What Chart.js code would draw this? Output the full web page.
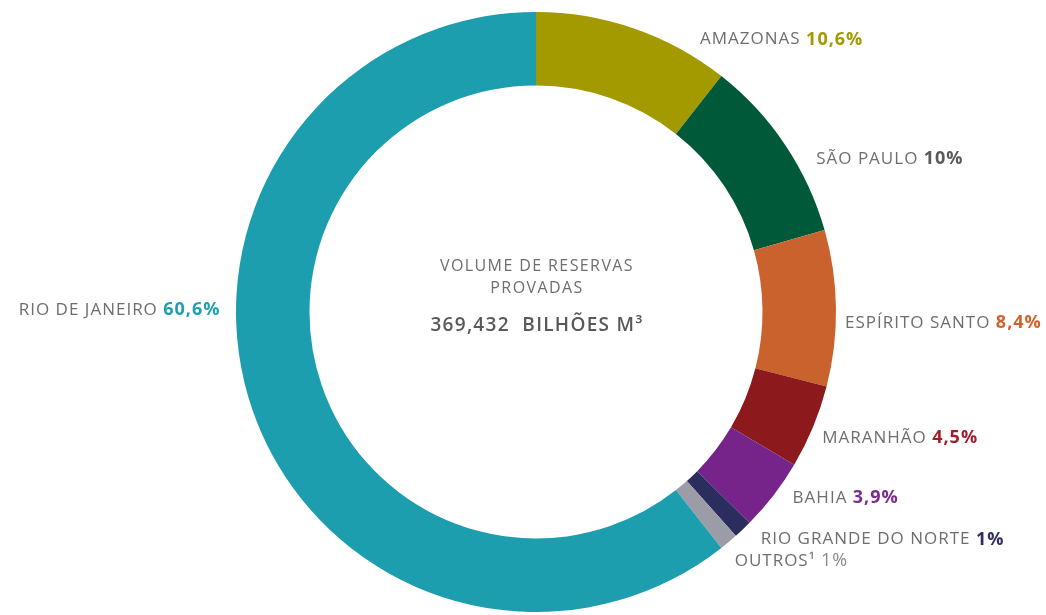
<!DOCTYPE html>
<html lang="pt">
<head>
  <meta charset="UTF-8" />
  <title>Volume de reservas provadas</title>
  <script src="https://cdn.jsdelivr.net/npm/chart.js"></script>
  <style>
    html, body { margin: 0; padding: 0; background: #ffffff; }
    #wrap { width: 1046px; height: 615px; position: relative; }
  </style>
</head>
<body>
  <div id="wrap"><canvas id="reservasChart"></canvas></div>

  <script>
    // dados
    const estados = ['AMAZONAS', 'SÃO PAULO', 'ESPÍRITO SANTO', 'MARANHÃO', 'BAHIA', 'RIO GRANDE DO NORTE', 'OUTROS¹', 'RIO DE JANEIRO'];
    const percentuais = [10.6, 10, 8.4, 4.5, 3.9, 1, 1, 60.6];
    const rotulosPct = ['10,6%', '10%', '8,4%', '4,5%', '3,9%', '1%', '1%', '60,6%'];
    const tituloCentro = ['VOLUME DE RESERVAS', 'PROVADAS'];
    const totalCentro = '369,432  BILHÕES M³';

    const cores = ['#a39a00', '#005a3a', '#c9622c', '#8c1a1c', '#76248a', '#2b2d5e', '#9c9ba8', '#1d9eae'];
    const coresPct = ['#a39a00', '#58595b', '#d0622c', '#a11f2c', '#7b2a8e', '#2d2f66', '#8a8a8a', '#1f9fb0'];
    const pesoPct = ['bold', 'bold', 'bold', 'bold', 'bold', 'bold', 'normal', 'bold'];
    // deslocamento do rótulo a partir do ponto médio externo de cada fatia
    const offsetRotulo = [[66, 11], [31, 14], [9, 15], [9, 11], [19, 3], [18, 10], [6, 19], [-32, -100]];

    const FONTE = '"Open Sans", "DejaVu Sans", sans-serif';

    const rotulosPlugin = {
      id: 'rotulos',
      afterDraw(chart) {
        const ctx = chart.ctx;
        const arcs = chart.getDatasetMeta(0).data;
        ctx.save();
        ctx.textBaseline = 'middle';
        arcs.forEach((arc, i) => {
          const p = arc.getProps(['x', 'y', 'startAngle', 'endAngle', 'outerRadius']);
          const mid = (p.startAngle + p.endAngle) / 2;
          const px = p.x + Math.cos(mid) * p.outerRadius + offsetRotulo[i][0];
          const py = p.y + Math.sin(mid) * p.outerRadius + offsetRotulo[i][1];
          const nome = estados[i] + ' ';
          ctx.letterSpacing = '1px';
          ctx.font = '17px ' + FONTE;
          const wNome = ctx.measureText(nome).width;
          ctx.font = pesoPct[i] + ' 18px ' + FONTE;
          const wPct = ctx.measureText(rotulosPct[i]).width;
          const x0 = px < p.x ? px - wNome - wPct : px;
          ctx.textAlign = 'left';
          ctx.font = '17px ' + FONTE;
          ctx.fillStyle = '#6d6e71';
          ctx.fillText(nome, x0, py);
          ctx.font = pesoPct[i] + ' 18px ' + FONTE;
          ctx.fillStyle = coresPct[i];
          ctx.fillText(rotulosPct[i], x0 + wNome, py);
        });

        // texto central
        const c = arcs[0].getProps(['x', 'y']);
        ctx.textAlign = 'center';
        ctx.fillStyle = '#6d6e71';
        ctx.letterSpacing = '1.4px';
        ctx.font = '16px ' + FONTE;
        ctx.fillText(tituloCentro[0], c.x + 1, c.y - 46);
        ctx.fillText(tituloCentro[1], c.x + 1, c.y - 24);
        ctx.fillStyle = '#58595b';
        ctx.letterSpacing = '1.3px';
        ctx.font = '600 19px ' + FONTE;
        ctx.fillText(totalCentro, c.x + 1, c.y + 14);
        ctx.restore();
      }
    };

    new Chart(document.getElementById('reservasChart'), {
      type: 'doughnut',
      data: {
        labels: estados,
        datasets: [{
          data: percentuais,
          backgroundColor: cores,
          borderWidth: 0
        }]
      },
      options: {
        responsive: true,
        maintainAspectRatio: false,
        animation: false,
        cutout: '75.5%',
        layout: { padding: { top: 12, bottom: 3, left: 26, right: 0 } },
        plugins: {
          legend: { display: false },
          tooltip: { enabled: false }
        }
      },
      plugins: [rotulosPlugin]
    });
  </script>
</body>
</html>
